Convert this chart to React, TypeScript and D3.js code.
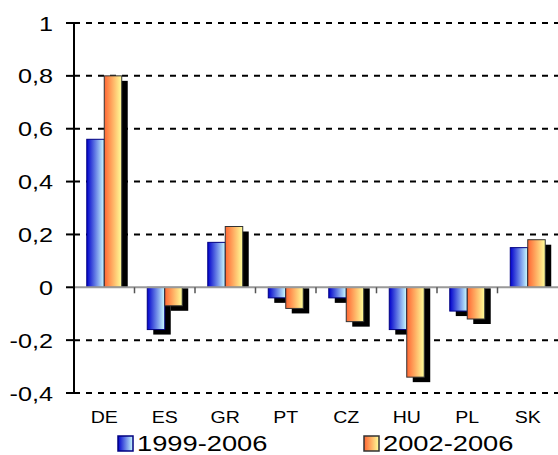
import * as d3 from "d3";

const categories = ["DE", "ES", "GR", "PT", "CZ", "HU", "PL", "SK"];
const series1999 = [0.56, -0.16, 0.17, -0.04, -0.04, -0.16, -0.09, 0.15];
const series2002 = [0.8, -0.07, 0.23, -0.08, -0.13, -0.34, -0.12, 0.18];
const seriesNames = ["1999-2006", "2002-2006"];
const yTicks = [-0.4, -0.2, 0, 0.2, 0.4, 0.6, 0.8, 1];

const width = 558;
const height = 455;
const margin = { left: 74, right: 0, top: 23, bottom: 62 };
const font = "'Liberation Sans', Arial, sans-serif";

const gradIds = ["gradBlue", "gradOrange"];
const strokes = ["#000080", "#333333"];

function fmt(v: number) {
    if (Number.isInteger(v)) return String(v);
    return v.toFixed(1).replace(".", ",");
}

export default function App() {
    const x0 = d3.scaleBand()
        .domain(categories)
        .range([margin.left, width - margin.right])
        .padding(0);

    const x1 = d3.scaleBand()
        .domain(seriesNames)
        .range([0, x0.bandwidth()])
        .paddingInner(0)
        .paddingOuter(0.73);

    const y = d3.scaleLinear()
        .domain([-0.4, 1])
        .range([height - margin.bottom, margin.top]);

    const rows = categories.map((c, i) => ({ cat: c, values: [series1999[i], series2002[i]] }));
    const shadow = { dx: 6, dy: 5 };

    // shadow only sticks out on the right and on the far end of the bar
    const shadowTop = (v: number) => v >= 0 ? y(v) + shadow.dy : y(0) + 1;
    const shadowBottom = (v: number) => v >= 0 ? y(0) : y(v) + shadow.dy;

    return (
        <svg width={width} height={height}
             style={{ position: "absolute", left: 0, top: 0, background: "#fff" }}>
            <defs>
                <linearGradient id="gradBlue" x1="0" x2="1" y1="0" y2="0">
                    <stop offset="0" stopColor="#0000cc" />
                    <stop offset="1" stopColor="#ccffff" />
                </linearGradient>
                <linearGradient id="gradOrange" x1="0" x2="1" y1="0" y2="0">
                    <stop offset="0" stopColor="#ff6633" />
                    <stop offset="1" stopColor="#ffff99" />
                </linearGradient>
            </defs>

            {/* grid lines */}
            {yTicks.filter(t => t !== 0).map(t => (
                <line key={"g" + t} x1={margin.left} x2={width - margin.right}
                      y1={y(t)} y2={y(t)} stroke="#000" strokeWidth={2}
                      strokeDasharray="6,6" />
            ))}

            {/* shadows */}
            {rows.map(r => r.values.map((v, j) => (
                <rect key={"s" + r.cat + j}
                      x={x0(r.cat)! + x1(seriesNames[j])! + shadow.dx}
                      y={shadowTop(v)}
                      width={x1.bandwidth()}
                      height={Math.max(0, shadowBottom(v) - shadowTop(v))}
                      fill="#000" />
            )))}

            {/* bars */}
            {rows.map(r => r.values.map((v, j) => (
                <rect key={"b" + r.cat + j}
                      x={x0(r.cat)! + x1(seriesNames[j])!}
                      y={Math.min(y(v), y(0))}
                      width={x1.bandwidth()}
                      height={Math.abs(y(v) - y(0))}
                      fill={`url(#${gradIds[j]})`}
                      stroke={strokes[j]} strokeWidth={1} />
            )))}

            {/* zero line and category ticks */}
            <line x1={margin.left} x2={width - margin.right} y1={y(0)} y2={y(0)}
                  stroke="#999" strokeWidth={2} />
            {categories.map(c => (
                <line key={"t" + c} x1={x0(c)!} x2={x0(c)!} y1={y(0)} y2={y(0) + 6}
                      stroke="#555" strokeWidth={1.5} />
            ))}

            {/* y axis */}
            <line x1={margin.left} x2={margin.left} y1={y(1)} y2={y(-0.4)}
                  stroke="#000" strokeWidth={2} />
            {yTicks.map(t => (
                <g key={"y" + t}>
                    <line x1={margin.left - 8} x2={margin.left} y1={y(t)} y2={y(t)}
                          stroke="#000" strokeWidth={2} />
                    <text transform={`translate(53,${y(t)}) scale(1.2,1)`}
                          textAnchor="end" dy="0.36em"
                          fontFamily={font} fontSize={21}>{fmt(t)}</text>
                </g>
            ))}

            {/* category labels */}
            {categories.map(c => (
                <text key={"l" + c}
                      transform={`translate(${x0(c)! + x0.bandwidth() / 2},423) scale(1.15,1)`}
                      textAnchor="middle" fontFamily={font} fontSize={17}>{c}</text>
            ))}

            {/* legend */}
            {seriesNames.map((s, j) => {
                const lx = [118, 364][j];
                return (
                    <g key={"leg" + s}>
                        <rect x={lx} y={436} width={15} height={15}
                              fill={`url(#${gradIds[j]})`} stroke={strokes[j]} strokeWidth={1.5} />
                        <text transform={`translate(${lx + 19},451) scale(1.24,1)`}
                              fontFamily={font} fontSize={22}>{s}</text>
                    </g>
                );
            })}
        </svg>
    );
}
